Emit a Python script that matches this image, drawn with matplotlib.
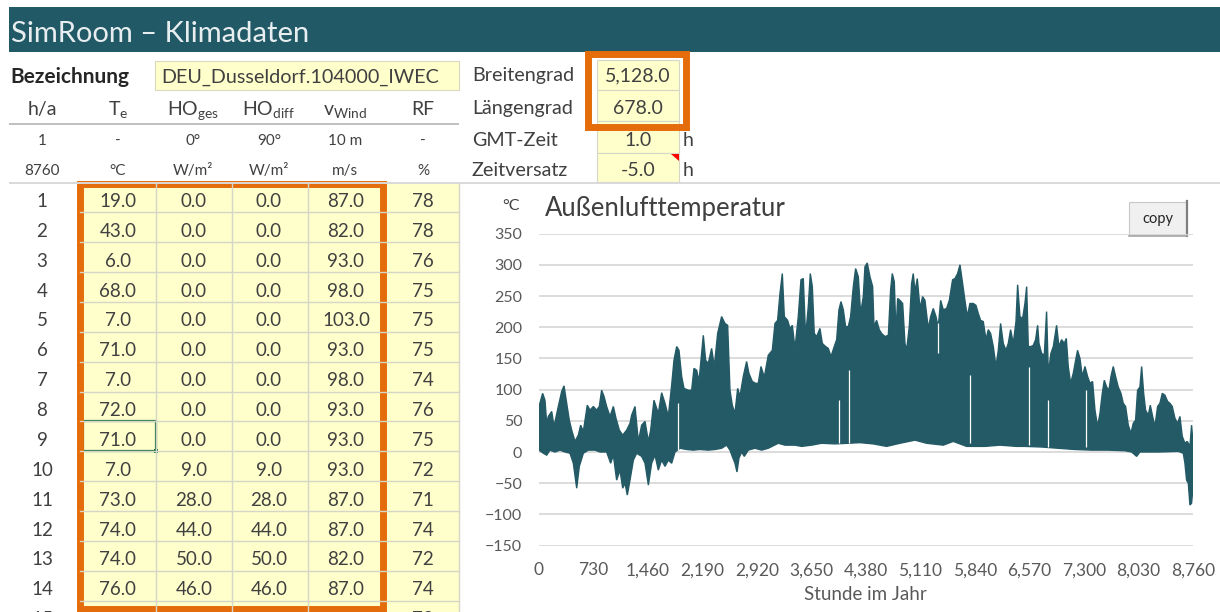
import numpy as np
import matplotlib
matplotlib.use('Agg')
import matplotlib.pyplot as plt
from matplotlib.patches import Rectangle, Polygon
from matplotlib.ticker import FuncFormatter

# ---------------- data ----------------
row_numbers = list(range(1, 15))
te_values = [19.0, 43.0, 6.0, 68.0, 7.0, 71.0, 7.0, 72.0, 71.0, 7.0, 73.0, 74.0, 74.0, 76.0]
ho_ges = [0.0, 0.0, 0.0, 0.0, 0.0, 0.0, 0.0, 0.0, 0.0, 9.0, 28.0, 44.0, 50.0, 46.0]
ho_diff = [0.0, 0.0, 0.0, 0.0, 0.0, 0.0, 0.0, 0.0, 0.0, 9.0, 28.0, 44.0, 50.0, 46.0]
v_wind = [87.0, 82.0, 93.0, 98.0, 103.0, 93.0, 98.0, 93.0, 93.0, 93.0, 87.0, 87.0, 82.0, 87.0]
rf_values = [78, 78, 76, 75, 75, 75, 74, 76, 75, 72, 71, 74, 72, 74]
rf_row15 = 78

header_labels = ['h/a', 'T$_e$', 'HO$_{ges}$', 'HO$_{diff}$', 'v$_{Wind}$', 'RF']
header_row2 = ['1', '-', '0°', '90°', '10 m', '-']
header_row3 = ['8760', '°C', 'W/m²', 'W/m²', 'm/s', '%']

site_labels = ['Breitengrad', 'Längengrad', 'GMT-Zeit', 'Zeitversatz']
site_values = [5128.0, 678.0, 1.0, -5.0]
site_units = ['', '', 'h', 'h']
station_name = 'DEU_Dusseldorf.104000_IWEC'

# temperature envelope (hour, value in 0.1 °C)
upper_envelope = [
    (0, 73), (49, 94), (80, 83), (103, 46), (125, 57), (170, 65), (201, 41), (259, 73), (304, 97), (335, 106),
    (371, 78), (406, 51), (438, 35), (482, 17), (527, 27), (558, 43), (594, 33), (647, 75), (683, 67), (728, 73),
    (772, 67), (808, 73), (839, 99), (871, 89), (906, 73), (951, 57), (996, 73), (1031, 54), (1076, 35), (1121, 27),
    (1174, 35), (1219, 46), (1241, 59), (1286, 73), (1331, 17), (1375, 43), (1420, 49), (1465, 17), (1496, 35), (1540, 83),
    (1598, 62), (1643, 95), (1688, 78), (1732, 57), (1777, 107), (1808, 147), (1844, 169), (1875, 163), (1911, 121), (1942, 102),
    (2000, 99), (2045, 99), (2076, 134), (2112, 131), (2143, 113), (2201, 187), (2232, 147), (2268, 142), (2312, 166), (2348, 137),
    (2393, 190), (2446, 217), (2491, 206), (2527, 203), (2558, 99), (2589, 75), (2625, 62), (2661, 102), (2692, 89), (2736, 121),
    (2781, 145), (2812, 126), (2857, 113), (2902, 110), (2937, 110), (2973, 137), (3018, 120), (3071, 155), (3125, 163), (3161, 206),
    (3196, 211), (3228, 254), (3259, 286), (3286, 217), (3330, 211), (3362, 198), (3393, 203), (3429, 166), (3473, 217), (3509, 276),
    (3540, 278), (3571, 185), (3607, 233), (3634, 286), (3661, 265), (3687, 190), (3719, 185), (3763, 198), (3795, 174), (3839, 169),
    (3875, 166), (3911, 153), (3955, 169), (3987, 180), (4018, 228), (4045, 241), (4076, 228), (4107, 201), (4143, 201), (4174, 217),
    (4210, 265), (4241, 294), (4277, 281), (4308, 222), (4344, 249), (4366, 297), (4397, 303), (4433, 281), (4469, 265), (4487, 201),
    (4522, 211), (4558, 196), (4589, 190), (4634, 185), (4679, 187), (4710, 260), (4732, 286), (4759, 273), (4781, 190), (4804, 246),
    (4835, 243), (4871, 238), (4902, 174), (4924, 163), (4960, 201), (4991, 270), (5013, 286), (5036, 257), (5067, 278), (5103, 230),
    (5138, 249), (5170, 243), (5214, 198), (5246, 217), (5281, 230), (5317, 217), (5348, 200), (5380, 243), (5415, 228), (5460, 230),
    (5496, 243), (5540, 276), (5572, 278), (5607, 286), (5639, 300), (5674, 270), (5705, 243), (5737, 217), (5772, 238), (5817, 238),
    (5853, 235), (5884, 222), (5915, 211), (5951, 209), (5987, 180), (6018, 196), (6049, 190), (6085, 169), (6121, 137), (6152, 163),
    (6183, 206), (6219, 174), (6255, 163), (6286, 174), (6317, 196), (6353, 174), (6389, 209), (6411, 268), (6442, 217), (6478, 214),
    (6509, 238), (6532, 265), (6554, 169), (6589, 169), (6621, 171), (6652, 180), (6679, 203), (6697, 174), (6732, 158), (6768, 155),
    (6799, 225), (6822, 126), (6857, 158), (6889, 169), (6933, 203), (6964, 169), (7000, 180), (7036, 174), (7063, 182), (7089, 137),
    (7121, 110), (7156, 126), (7188, 147), (7214, 163), (7246, 150), (7277, 121), (7313, 137), (7348, 121), (7380, 110), (7415, 113),
    (7447, 67), (7482, 41), (7514, 62), (7545, 94), (7572, 115), (7603, 104), (7634, 99), (7661, 121), (7692, 137), (7723, 121),
    (7759, 104), (7795, 94), (7826, 78), (7857, 73), (7893, 43), (7929, 30), (7960, 46), (7991, 51), (8018, 99), (8049, 104),
    (8072, 137), (8099, 94), (8125, 67), (8161, 59), (8188, 75), (8219, 57), (8250, 41), (8286, 73), (8317, 78), (8349, 94),
    (8384, 91), (8420, 81), (8451, 78), (8482, 73), (8518, 54), (8554, 46), (8585, 57), (8616, 25), (8652, 14), (8683, 17),
    (8719, 9), (8741, 43), (8760, 14),
]
lower_envelope = [
    (0, 3), (58, -2), (103, -5), (147, 3), (214, 0), (281, 3), (348, 0), (415, -2), (460, -18), (505, -58),
    (540, -23), (594, -2), (661, 3), (750, 3), (817, 0), (906, 0), (960, -18), (996, -5), (1040, -45), (1085, -29),
    (1121, -58), (1152, -50), (1183, -69), (1219, -45), (1264, -13), (1308, -2), (1375, -7), (1420, -18), (1465, -53), (1509, -18),
    (1554, -5), (1598, -29), (1643, -13), (1688, -23), (1732, -13), (1777, -18), (1822, 0), (1889, 6), (1978, 4), (2067, 3),
    (2150, 4), (2268, 3), (2357, 4), (2446, 6), (2513, 11), (2558, 3), (2589, -7), (2625, -18), (2652, -32), (2678, -10),
    (2714, 0), (2750, -7), (2803, 3), (2893, 6), (2982, 3), (3071, 6), (3205, 14), (3295, 11), (3429, 11), (3518, 9),
    (3652, 11), (3786, 14), (3964, 13), (4143, 14), (4299, 15), (4478, 13), (4656, 9), (4835, 14), (5036, 19), (5192, 14),
    (5415, 11), (5549, 17), (5728, 9), (5973, 9), (6174, 11), (6398, 9), (6509, 9), (6732, 8), (6955, 6), (7179, 4),
    (7402, 3), (7625, 3), (7848, 2), (7938, 0), (8005, -7), (8049, 0), (8295, 0), (8563, 1), (8630, -2), (8652, -18),
    (8674, -45), (8697, -50), (8719, -85), (8741, -82), (8760, -56),
]
# thin white gaps visible in the band: (hour, bottom, top)
gaps = [(1857, 3, 78), (4018, 14, 83), (4150, 14, 131), (5348, 158, 206),
        (5772, 14, 123), (6563, 11, 137), (6813, 8, 83), (7322, 8, 99)]

x_ticks = list(range(0, 8761, 730))
y_ticks = list(range(-150, 351, 50))

# ---------------- style ----------------
FONT = 'Lato'
plt.rcParams['font.family'] = [FONT, 'DejaVu Sans']
plt.rcParams['mathtext.fontset'] = 'custom'
plt.rcParams['mathtext.rm'] = FONT
plt.rcParams['mathtext.default'] = 'regular'

TEAL = '#215A66'
YEL = '#FFFFCC'
ORANGE = '#E46C0A'
TXT = '#404040'
CELLGRID = '#D6D6C8'

W, H = 1220, 612
fig = plt.figure(figsize=(12.2, 6.12), dpi=100)
bg = fig.add_axes([0, 0, 1, 1])
bg.set_xlim(0, W)
bg.set_ylim(H, 0)
bg.axis('off')

# title bar
bg.add_patch(Rectangle((9, 7), W - 9, 45, facecolor=TEAL, edgecolor='none'))
bg.text(11, 41.5, 'SimRoom – Klimadaten', fontsize=21, color='#E8EEF0', va='baseline', ha='left')

# Bezeichnung
bg.text(10, 83, 'Bezeichnung', fontsize=15, fontweight='bold', color='#262626', va='baseline')
bg.add_patch(Rectangle((155, 61), 304, 29, facecolor=YEL, edgecolor='#D9D9C0', lw=0.8))
bg.text(161, 83, station_name, fontsize=14.2, color=TXT, va='baseline')

col_x = [42, 118, 193, 269, 345, 423]
for x, lab in zip(col_x, header_labels):
    bg.text(x, 115, lab, fontsize=14, color=TXT, ha='center', va='baseline')
bg.plot([9, 459], [123.5, 123.5], color='#BFBFBF', lw=1.4, solid_capstyle='butt')
for x, lab in zip(col_x, header_row2):
    bg.text(x, 145, lab, fontsize=11, color=TXT, ha='center', va='baseline')
for x, lab in zip(col_x, header_row3):
    bg.text(x, 175, lab, fontsize=11, color=TXT, ha='center', va='baseline')
bg.plot([9, W], [182.5, 182.5], color='#D9D9D9', lw=1.4, solid_capstyle='butt')

# site parameters
site_base = [81.5, 114, 145.5, 176.5]
site_rows = [60, 90, 121, 153, 182]
for i in range(4):
    bg.add_patch(Rectangle((597, site_rows[i]), 82, site_rows[i + 1] - site_rows[i],
                           facecolor=YEL, edgecolor=CELLGRID, lw=0.8))
for lab, val, unit, yb in zip(site_labels, site_values, site_units, site_base):
    bg.text(472, yb, lab, fontsize=14.2, color=TXT, va='baseline')
    bg.text(638, yb, f'{val:,.1f}', fontsize=14, color=TXT, ha='center', va='baseline')
    if unit:
        bg.text(683, yb, unit, fontsize=14, color=TXT, va='baseline')
bg.add_patch(Polygon([(671, 153.5), (679, 153.5), (679, 161)], closed=True, facecolor='red', edgecolor='none'))
bg.add_patch(Rectangle((587.5, 53.5), 98, 73, fill=False, edgecolor=ORANGE, lw=5, joinstyle='miter'))

# data table
top0 = 182.5
rh = 29.87
bg.add_patch(Rectangle((80, top0), 459.3 - 80, H - top0 + 5, facecolor=YEL, edgecolor='none'))
for i in range(1, 16):
    y = top0 + i * rh
    bg.plot([80, 459.3], [y, y], color=CELLGRID, lw=1.0)
for x in [155.7, 232.3, 307.7, 459.3]:
    bg.plot([x, x], [top0, H + 5], color=CELLGRID, lw=1.0)

for i, n in enumerate(row_numbers):
    yb = top0 + i * rh + 24.5
    bg.text(42, yb, str(n), fontsize=13.5, color=TXT, ha='center', va='baseline')
    bg.text(118, yb, f'{te_values[i]:.1f}', fontsize=13.5, color=TXT, ha='center', va='baseline')
    bg.text(194, yb, f'{ho_ges[i]:.1f}', fontsize=13.5, color=TXT, ha='center', va='baseline')
    bg.text(269, yb, f'{ho_diff[i]:.1f}', fontsize=13.5, color=TXT, ha='center', va='baseline')
    bg.text(346, yb, f'{v_wind[i]:.1f}', fontsize=13.5, color=TXT, ha='center', va='baseline')
    bg.text(423, yb, str(rf_values[i]), fontsize=13.5, color=TXT, ha='center', va='baseline')
yb15 = top0 + 14 * rh + 24.5
bg.text(42, yb15, '15', fontsize=13.5, color=TXT, ha='center', va='baseline')
bg.text(423, yb15, str(rf_row15), fontsize=13.5, color=TXT, ha='center', va='baseline')

# selected cell (row 9, Te)
sel_top = top0 + 8 * rh
bg.add_patch(Rectangle((82.7, sel_top), 73, rh, fill=False, edgecolor='#217346', lw=1.6))
bg.add_patch(Rectangle((153.7, sel_top + rh - 2), 4, 4, facecolor='#217346', edgecolor='none'))

# orange frame around data columns
bg.add_patch(Rectangle((79.5, 183.5), 303.5, 425, fill=False, edgecolor=ORANGE, lw=5, joinstyle='miter'))

# copy button
bg.add_patch(Rectangle((1129, 202), 57, 33, facecolor='#F0F0F0', edgecolor='#C8C8C8', lw=0.8))
bg.plot([1187, 1187], [201, 236], color='#7F7F7F', lw=1.6)
bg.plot([1129, 1187], [236, 236], color='#A6A6A6', lw=1.2)
bg.text(1157.5, 218.5, 'copy', fontsize=10.5, color='#262626', ha='center', va='center')

# chart titles
bg.text(545, 216, 'Außenlufttemperatur', fontsize=18.5, color=TXT, va='baseline')
bg.text(520, 210, '°C', fontsize=11.5, color=TXT, va='baseline', ha='right')
bg.text(865, 600, 'Stunde im Jahr', fontsize=13.5, color='#595959', ha='center', va='baseline')

# ---------------- chart ----------------
x0, x1 = 539, 1193
y_top, y_bot = 233.6, 545.6
ax = fig.add_axes([x0 / W, 1 - y_bot / H, (x1 - x0) / W, (y_bot - y_top) / H])
ax.patch.set_alpha(0)
for s in ax.spines.values():
    s.set_visible(False)
ax.set_xlim(0, 8760)
ax.set_ylim(-150, 350)
ax.set_yticks(y_ticks)
ax.set_xticks(x_ticks)
ax.xaxis.set_major_formatter(FuncFormatter(lambda v, p: f'{int(v):,}'))
ax.grid(axis='y', color='#D9D9D9', lw=1.3)
ax.set_axisbelow(True)
ax.tick_params(axis='y', length=0, labelsize=11.5, colors='#595959', pad=12)
ax.tick_params(axis='x', length=0, labelsize=12.5, colors='#595959', pad=12)

hu, tu = zip(*upper_envelope)
hl, tl = zip(*lower_envelope)
poly_x = np.concatenate([hu, hl[::-1]])
poly_y = np.concatenate([tu, tl[::-1]])
ax.fill(poly_x, poly_y, facecolor='#235A66', edgecolor='#235A66', lw=1.0, zorder=2)
gh, gb, gt = zip(*gaps)
ax.vlines(gh, gb, gt, colors='white', lw=0.9, zorder=3)

fig.savefig('out.png', dpi=100)
